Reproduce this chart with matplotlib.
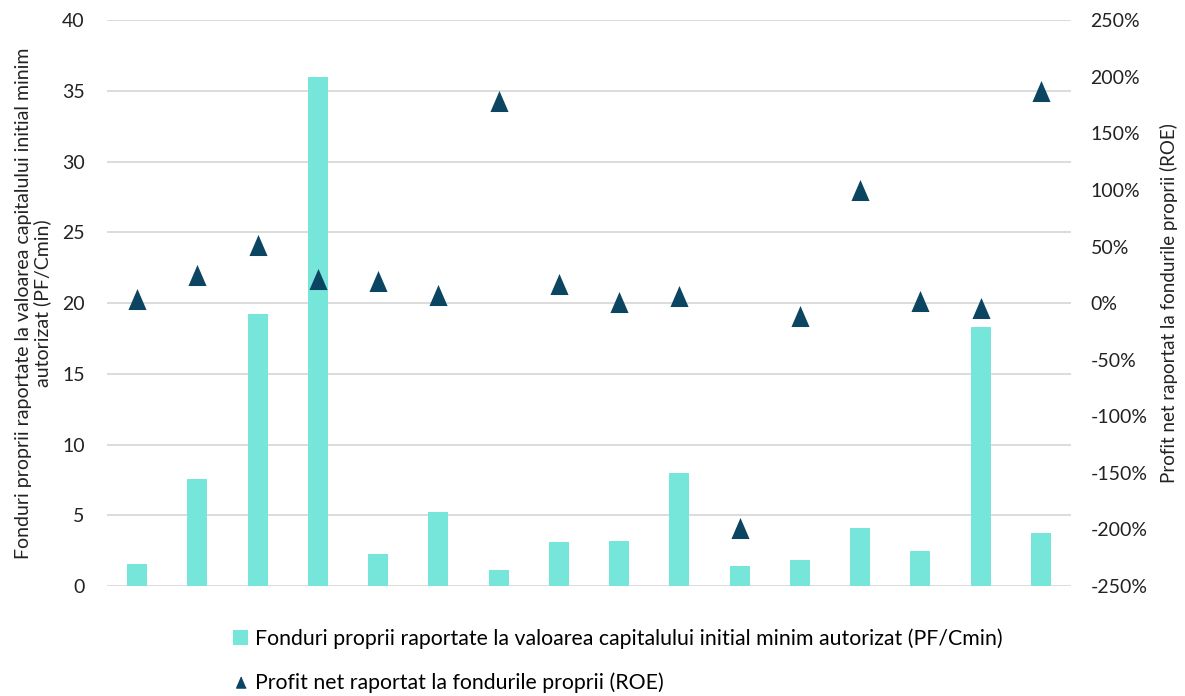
import matplotlib.pyplot as plt
from matplotlib.lines import Line2D
from matplotlib.patches import Patch
from matplotlib.ticker import FuncFormatter

plt.rcParams['font.family'] = ['Lato', 'DejaVu Sans']

# data
pf_cmin = [1.55, 7.55, 19.2, 36.0, 2.25, 5.2, 1.15, 3.1, 3.15, 8.0, 1.4, 1.85, 4.1, 2.45, 18.3, 3.75]
roe = [3.5, 25, 51, 21.5, 19.5, 7, 178.5, 17, 1, 6.5, -199, -11, 100, 2, -4, 187]

bar_color = '#76E5DA'
tri_color = '#0B4561'
label_pf = 'Fonduri proprii raportate la valoarea capitalului initial minim autorizat (PF/Cmin)'
label_roe = 'Profit net raportat la fondurile proprii (ROE)'
tri = [(0, 1), (-0.86, -1), (0.86, -1)]

fig = plt.figure(figsize=(11.85, 6.96), dpi=100)
ax = fig.add_axes([0.0903, 0.158, 0.8135, 0.813])
ax2 = ax.twinx()

x = list(range(len(pf_cmin)))
ax.bar(x, pf_cmin, width=0.33, color=bar_color, zorder=2)
ax2.scatter(x, roe, marker=tri, s=230, color=tri_color, zorder=3, linewidths=0)

ax.set_xlim(-0.5, len(x) - 0.5)
ax.set_ylim(0, 40)
ax.set_yticks(range(0, 41, 5))
ax2.set_ylim(-250, 250)
ax2.set_yticks(range(-250, 251, 50))
ax2.yaxis.set_major_formatter(FuncFormatter(lambda v, p: f'{v:.0f}%'))

ax.set_xticks([])
ax.grid(axis='y', color='#d9d9d9', linewidth=1.3, zorder=0)
ax.set_axisbelow(True)
ax.set_zorder(ax2.get_zorder() - 1)
ax2.patch.set_visible(False)
for a in (ax, ax2):
    for s in a.spines.values():
        s.set_visible(False)
    a.tick_params(length=0, labelsize=14, colors='#222222')
ax.tick_params(axis='y', pad=16)
ax2.tick_params(axis='y', pad=14)

ax.set_ylabel('Fonduri proprii raportate la valoarea capitalului initial minim\nautorizat (PF/Cmin)',
              fontsize=14, color='#222222', labelpad=8, linespacing=1.1)
ax2.set_ylabel(label_roe, fontsize=13.5, color='#222222', labelpad=9)

handles = [Patch(facecolor=bar_color, edgecolor='none'),
           Line2D([], [], marker=tri, color=tri_color, linestyle='none', markersize=8)]
fig.legend(handles, [label_pf, label_roe], loc='upper left', bbox_to_anchor=(0.197, 0.097),
           frameon=False, fontsize=15.3, labelspacing=1.1, handlelength=0.7,
           handletextpad=0.3, borderaxespad=0, borderpad=0)

fig.savefig('out.png', dpi=100)
